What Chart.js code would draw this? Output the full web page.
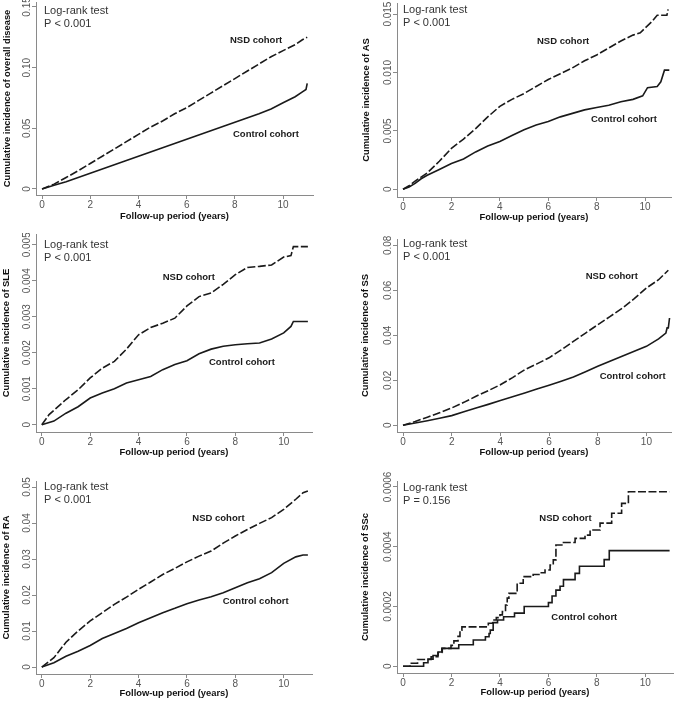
<!DOCTYPE html>
<html>
<head>
<meta charset="utf-8">
<script src="https://cdn.jsdelivr.net/npm/chart.js@4.4.1/dist/chart.umd.min.js"></script>
<style>
html,body{margin:0;padding:0;background:#fff;}
#wrap{position:relative;width:676px;height:701px;overflow:hidden;}
#wrap canvas{position:absolute;}
</style>
</head>
<body>
<div id="wrap"></div>
<script>
// ---- data ----
const xTicks = [0, 2, 4, 6, 8, 10];

// overall disease
const overallNsdT = [0,0.5,1,1.5,2,2.5,3,3.5,4,4.5,5,5.5,6,6.5,7,7.5,8,8.5,9,9.5,10,10.5,10.8,11];
const overallNsdY = [0,0.004,0.0095,0.015,0.021,0.027,0.033,0.039,0.045,0.051,0.056,0.062,0.067,0.073,0.079,0.085,0.091,0.097,0.103,0.109,0.114,0.119,0.123,0.125];
const overallCtrlT = [0,0.5,1,1.5,2,2.5,3,3.5,4,4.5,5,5.5,6,6.5,7,7.5,8,8.5,9,9.5,10,10.5,10.8,10.95,11];
const overallCtrlY = [0,0.003,0.006,0.0095,0.013,0.0165,0.020,0.0235,0.027,0.0305,0.034,0.0375,0.041,0.0445,0.048,0.0515,0.055,0.0585,0.062,0.066,0.071,0.076,0.080,0.082,0.087];
const overallYTicks = [0, 0.05, 0.10, 0.15];
const overallYLabels = ['0', '0.05', '0.10', '0.15'];

// AS
const asNsdT = [0,0.25,0.5,1,1.5,2,2.5,3,3.5,4,4.5,5,5.5,6,6.5,7,7.5,8,8.5,9,9.5,9.8,10,10.3,10.5,10.9,10.95];
const asNsdY = [0,0.0003,0.0007,0.0014,0.0024,0.0035,0.0043,0.0052,0.0062,0.0071,0.0077,0.0082,0.0088,0.0094,0.0099,0.0104,0.0110,0.0115,0.0121,0.0127,0.0132,0.0134,0.0138,0.0144,0.0149,0.0149,0.0154];
const asCtrlT = [0,0.25,0.5,0.75,1,1.5,2,2.5,3,3.5,4,4.5,5,5.5,6,6.5,7,7.5,8,8.5,9,9.5,9.9,10.1,10.5,10.65,10.8,11];
const asCtrlY = [0,0.0002,0.0005,0.0009,0.0012,0.0017,0.0022,0.0026,0.0032,0.0037,0.0041,0.0046,0.0051,0.0055,0.0058,0.0062,0.0065,0.0068,0.0070,0.0072,0.0075,0.0077,0.0080,0.0087,0.0088,0.0092,0.0102,0.0102];
const asYTicks = [0, 0.005, 0.010, 0.015];
const asYLabels = ['0', '0.005', '0.010', '0.015'];

// SLE
const sleNsdT = [0,0.3,0.5,1,1.5,2,2.5,3,3.5,4,4.5,5,5.5,6,6.5,7,7.5,8,8.5,9,9.5,10,10.3,10.4,11];
const sleNsdY = [0,0.00028,0.0004,0.0007,0.00097,0.0013,0.00157,0.00176,0.0021,0.0025,0.0027,0.00282,0.00296,0.0033,0.00356,0.00366,0.0039,0.00417,0.00437,0.0044,0.00444,0.00466,0.0047,0.00495,0.00495];
const sleCtrlT = [0,0.5,1,1.5,2,2.5,3,3.5,4,4.5,5,5.5,6,6.5,7,7.5,8,8.5,9,9.5,10,10.3,10.4,11];
const sleCtrlY = [0,0.0001,0.00032,0.0005,0.00074,0.00088,0.001,0.00116,0.00125,0.00134,0.00153,0.00167,0.00178,0.00197,0.0021,0.00218,0.00222,0.00225,0.00227,0.00238,0.00255,0.00273,0.00287,0.00287];
const sleYTicks = [0, 0.001, 0.002, 0.003, 0.004, 0.005];
const sleYLabels = ['0', '0.001', '0.002', '0.003', '0.004', '0.005'];

// SS
const ssNsdT = [0,0.5,1,1.5,2,2.5,3,3.5,4,4.5,5,5.5,6,6.5,7,7.5,8,8.5,9,9.5,10,10.5,10.9];
const ssNsdY = [0,0.0017,0.0036,0.0056,0.0077,0.0102,0.0129,0.0154,0.018,0.0212,0.0247,0.0273,0.030,0.0335,0.0373,0.041,0.0447,0.0483,0.052,0.0563,0.061,0.0647,0.0689];
const ssCtrlT = [0,0.5,1,1.5,2,2.5,3,3.5,4,4.5,5,5.5,6,6.5,7,7.5,8,8.5,9,9.5,10,10.5,10.8,10.85,10.9,10.95];
const ssCtrlY = [0,0.001,0.002,0.0031,0.0043,0.006,0.0077,0.0093,0.011,0.0127,0.0144,0.0161,0.0178,0.0196,0.0215,0.0238,0.0262,0.0285,0.0307,0.0329,0.0351,0.0384,0.041,0.0433,0.0433,0.0477];
const ssYTicks = [0, 0.02, 0.04, 0.06, 0.08];
const ssYLabels = ['0', '0.02', '0.04', '0.06', '0.08'];

// RA
const raT = [0,0.5,1,1.5,2,2.5,3,3.5,4,4.5,5,5.5,6,6.5,7,7.5,8,8.5,9,9.5,10,10.5,10.8,11];
const raNsdY = [0,0.0026,0.0069,0.010,0.0128,0.0151,0.0174,0.0194,0.0216,0.0236,0.0257,0.0274,0.0292,0.0308,0.0322,0.0344,0.0364,0.0382,0.0399,0.0415,0.0438,0.0466,0.0484,0.0489];
const raCtrlY = [0,0.0012,0.003,0.0044,0.006,0.0079,0.0093,0.0107,0.0123,0.0137,0.0151,0.0163,0.0176,0.0186,0.0195,0.0206,0.022,0.0234,0.0245,0.0262,0.0288,0.0306,0.0311,0.0311];
const raYTicks = [0, 0.01, 0.02, 0.03, 0.04, 0.05];
const raYLabels = ['0', '0.01', '0.02', '0.03', '0.04', '0.05'];

// SSc (step function)
const sscNsdT = [0,0.29,0.6,1.16,1.44,1.6,1.98,2.1,2.27,2.35,2.43,3.52,3.7,3.85,4.0,4.1,4.23,4.3,4.37,4.71,4.96,5.37,5.65,5.86,6.07,6.2,6.31,6.62,7.1,7.51,7.72,8.13,8.61,9.02,9.3,11];
const sscNsdY = [0,0.00001,0.000023,0.000032,0.000046,0.00006,0.00007,0.000085,0.0001,0.000121,0.000132,0.000144,0.000155,0.000163,0.000172,0.000183,0.000205,0.000228,0.000244,0.000278,0.0003,0.000307,0.000313,0.000322,0.000339,0.000356,0.000406,0.000414,0.000428,0.000439,0.000456,0.000479,0.000512,0.000545,0.000584,0.000584];
const sscCtrlT = [0,0.85,1.03,1.24,1.45,1.62,2.3,2.9,3.4,3.55,3.6,3.72,3.9,4.15,4.6,5.0,6.0,6.15,6.31,6.48,6.62,7.1,7.28,8.3,8.51,11];
const sscCtrlY = [0,0.000012,0.000024,0.000036,0.000048,0.00006,0.000072,0.000088,0.000099,0.00011,0.000121,0.000146,0.000155,0.000166,0.000178,0.0002,0.000213,0.000235,0.000255,0.000268,0.00029,0.000311,0.000335,0.000357,0.000387,0.000387];
const sscYTicks = [0, 0.0002, 0.0004, 0.0006];
const sscYLabels = ['0', '0.0002', '0.0004', '0.0006'];

// ---- styles ----
const NARROW = "'Liberation Sans Narrow','Arial Narrow','Liberation Sans',sans-serif";
const SANS = "'Liberation Sans',Arial,sans-serif";
const AXIS_GRAY = '#8a8a8a';
const LINE = '#1a1a1a';

const zip = (t, y) => t.map((v, i) => ({x: v, y: y[i]}));

// ---- panel layout ----
const panels = [
  {name:'overall disease', nsdT:overallNsdT, nsdY:overallNsdY, ctrlT:overallCtrlT, ctrlY:overallCtrlY,
   yTicks:overallYTicks, yLabels:overallYLabels, p:'P < 0.001',
   pos:[0,0,338,233], area:[36,313,2,195], xr:[-0.25,11.24], yr:[-0.00495,0.1541], yPad:2, xPad:10.5,
   nsdAt:[230,43], ctrlAt:[233,137], testAt:[44,14]},
  {name:'AS', nsdT:asNsdT, nsdY:asNsdY, ctrlT:asCtrlT, ctrlY:asCtrlY,
   yTicks:asYTicks, yLabels:asYLabels, p:'P < 0.001',
   pos:[338,0,338,233], area:[59,333,3,197], xr:[-0.248,11.07], yr:[-0.00066,0.01595], yPad:23, xPad:10,
   nsdAt:[199,44], ctrlAt:[253,122], testAt:[65,13.3]},
  {name:'SLE', nsdT:sleNsdT, nsdY:sleNsdY, ctrlT:sleCtrlT, ctrlY:sleCtrlY,
   yTicks:sleYTicks, yLabels:sleYLabels, p:'P < 0.001',
   pos:[0,233,338,233], area:[36,312,1,199], xr:[-0.24,11.17], yr:[-0.000203,0.0053], yPad:1, xPad:8,
   nsdAt:[162.7,46.7], ctrlAt:[209,132.3], testAt:[44,14.7]},
  {name:'SS', nsdT:ssNsdT, nsdY:ssNsdY, ctrlT:ssCtrlT, ctrlY:ssCtrlY,
   yTicks:ssYTicks, yLabels:ssYLabels, p:'P < 0.001',
   pos:[338,233,338,233], area:[59,333,6,199], xr:[-0.247,11.01], yr:[-0.00298,0.0828], yPad:22, xPad:8,
   nsdAt:[247.7,46], ctrlAt:[261.7,146], testAt:[65,14]},
  {name:'RA', nsdT:raT, nsdY:raNsdY, ctrlT:raT, ctrlY:raCtrlY,
   yTicks:raYTicks, yLabels:raYLabels, p:'P < 0.001',
   pos:[0,466,338,235], area:[36,312,15,208], xr:[-0.24,11.17], yr:[-0.00194,0.05167], yPad:1, xPad:2,
   nsdAt:[192.3,55], ctrlAt:[222.7,138.3], testAt:[44,24]},
  {name:'SSc', nsdT:sscNsdT, nsdY:sscNsdY, ctrlT:sscCtrlT, ctrlY:sscCtrlY,
   yTicks:sscYTicks, yLabels:sscYLabels, p:'P = 0.156', stepped:true,
   pos:[338,466,338,235], area:[59,335,15,207], xr:[-0.248,11.14], yr:[-0.0000224,0.00062], yPad:22, xPad:2.6,
   nsdAt:[201.3,55], ctrlAt:[213.3,154], testAt:[65,25]}
];

// y tick labels (rotated, Stata style) and the in-plot texts
const annot = {
  id: 'annot',
  afterDraw(chart, args, o){
    const ctx = chart.ctx, ys = chart.scales.y, ca = chart.chartArea;
    ctx.save();
    ctx.fillStyle = '#555';
    ctx.font = '10px ' + NARROW;
    ctx.textAlign = 'center';
    ctx.textBaseline = 'middle';
    ys.ticks.forEach((t, i) => {
      ctx.save();
      ctx.translate(ca.left - 9, ys.getPixelForValue(t.value));
      ctx.rotate(-Math.PI / 2);
      ctx.fillText(o.yLabels[i], 0, 0);
      ctx.restore();
    });
    ctx.textAlign = 'left';
    ctx.textBaseline = 'alphabetic';
    ctx.fillStyle = '#333';
    ctx.font = '11px ' + NARROW;
    ctx.fillText('Log-rank test', o.testAt[0], o.testAt[1]);
    ctx.fillText(o.p, o.testAt[0], o.testAt[1] + 13);
    ctx.fillStyle = '#1a1a1a';
    ctx.font = 'bold 9.5px ' + SANS;
    ctx.fillText('NSD cohort', o.nsdAt[0], o.nsdAt[1]);
    ctx.fillText('Control cohort', o.ctrlAt[0], o.ctrlAt[1]);
    ctx.restore();
  }
};

const wrap = document.getElementById('wrap');

panels.forEach(pn => {
  const [px, py, w, h] = pn.pos;
  const [L, R, T, B] = pn.area;
  const cv = document.createElement('canvas');
  cv.width = w; cv.height = h;
  cv.style.left = px + 'px'; cv.style.top = py + 'px';
  cv.style.width = w + 'px'; cv.style.height = h + 'px';
  wrap.appendChild(cv);

  new Chart(cv.getContext('2d'), {
    type: 'line',
    data: {datasets: [
      {label:'NSD cohort', data: zip(pn.nsdT, pn.nsdY), borderColor: LINE, borderWidth: 1.6,
       borderDash: [8, 2.5], pointRadius: 0, tension: 0, stepped: pn.stepped ? 'before' : false, fill: false},
      {label:'Control cohort', data: zip(pn.ctrlT, pn.ctrlY), borderColor: LINE, borderWidth: 1.6,
       pointRadius: 0, tension: 0, stepped: pn.stepped ? 'before' : false, fill: false}
    ]},
    options: {
      responsive: false, animation: false, devicePixelRatio: 1,
      layout: {padding: {left: 0, top: T, right: w - R, bottom: 0}},
      plugins: {
        legend: {display: false}, tooltip: {enabled: false},
        annot: {yLabels: pn.yLabels, p: pn.p, nsdAt: pn.nsdAt, ctrlAt: pn.ctrlAt, testAt: pn.testAt}
      },
      scales: {
        x: {
          type: 'linear', min: pn.xr[0], max: pn.xr[1],
          afterBuildTicks: s => { s.ticks = xTicks.map(v => ({value: v})); },
          afterFit: s => { s.height = h - B; },
          grid: {drawOnChartArea: false, drawTicks: true, tickLength: 4, color: AXIS_GRAY},
          border: {display: true, color: AXIS_GRAY, width: 1},
          ticks: {color: '#555', font: {family: NARROW, size: 10}, padding: 0, maxRotation: 0,
                  callback: v => String(v)},
          title: {display: true, text: 'Follow-up period (years)', color: '#111',
                  font: {family: SANS, size: 9.4, weight: 'bold'}, padding: {top: 0, bottom: pn.xPad}}
        },
        y: {
          type: 'linear', min: pn.yr[0], max: pn.yr[1],
          afterBuildTicks: s => { s.ticks = pn.yTicks.map(v => ({value: v})); },
          afterFit: s => { s.width = L; },
          grid: {drawOnChartArea: false, drawTicks: true, tickLength: 4, color: AXIS_GRAY},
          border: {display: true, color: AXIS_GRAY, width: 1},
          ticks: {display: false},
          title: {display: true, text: 'Cumulative incidence of ' + pn.name, color: '#111',
                  font: {family: SANS, size: 9.4, weight: 'bold'}, padding: {top: pn.yPad, bottom: 0}}
        }
      }
    },
    plugins: [annot]
  });
});
</script>
</body>
</html>
